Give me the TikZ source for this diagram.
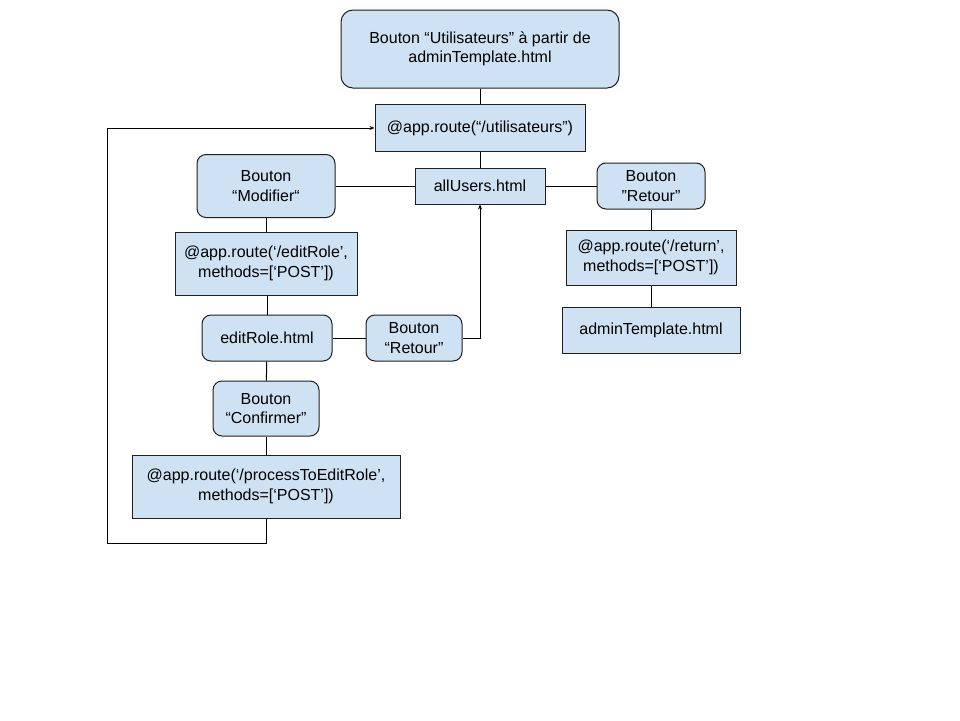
\documentclass[tikz,border=0pt]{standalone}
\usepackage{fontspec}
\setmainfont{Liberation Sans}
\usetikzlibrary{arrows.meta}
\definecolor{boxblue}{HTML}{CFE2F3}
\definecolor{edge}{HTML}{1F1F1F}
\begin{document}
\begin{tikzpicture}[x=1pt,y=-1pt,
  font=\fontsize{16}{19.5}\selectfont,
  box/.style={draw=edge,fill=boxblue,line width=1pt,align=center,inner sep=0pt},
  rbox/.style={box,rounded corners=9pt},
  link/.style={draw=black,line width=1pt},
  arr/.style={link,-{Stealth[length=5pt,width=4pt]}}]
\useasboundingbox[fill=white] (0,0) rectangle (960,720);
\node[rbox,rounded corners=12pt,minimum width=278pt,minimum height=78pt] (top) at (480,49) {Bouton “Utilisateurs” à partir de\\adminTemplate.html};
\node[box,minimum width=210pt,minimum height=47pt] (ru) at (480,128) {@app.route(“/utilisateurs”)};
\node[rbox,minimum width=138pt,minimum height=63pt] (mod) at (266,186) {Bouton\\“Modifier“};
\node[box,minimum width=130pt,minimum height=36pt] (all) at (480,186) {allUsers.html};
\node[rbox,minimum width=108pt,minimum height=46pt] (ret1) at (651,186) {Bouton\\"Retour"};
\node[box,minimum width=170pt,minimum height=55pt] (rret) at (651,257.5) {@app.route(‘/return’,\\methods=[‘POST’])};
\node[box,minimum width=178pt,minimum height=46pt] (adm) at (651,330) {adminTemplate.html};
\node[box,minimum width=182pt,minimum height=63pt] (red) at (266,263.5) {@app.route(‘/editRole’,\\methods=[‘POST’])};
\node[rbox,minimum width=130pt,minimum height=46pt] (edh) at (267,338) {editRole.html};
\node[rbox,minimum width=96pt,minimum height=46pt] (ret2) at (414,338) {Bouton\\“Retour”};
\node[rbox,minimum width=106pt,minimum height=55pt] (conf) at (266,408.5) {Bouton\\“Confirmer”};
\node[box,minimum width=268pt,minimum height=63pt] (proc) at (266,486.5) {@app.route(‘/processToEditRole’,\\methods=[‘POST’])};
\coordinate (c1) at (266,543);
\coordinate (c2) at (107,543);
\coordinate (c3) at (107,128);
\coordinate (c4) at (480,338);
\draw[link] (top) -- (ru);
\draw[link] (ru) -- (all);
\draw[link] (mod.east) -- (all.west);
\draw[link] (all.east) -- (ret1.west);
\draw[link] (ret1) -- (rret);
\draw[link] (rret) -- (adm);
\draw[link] (mod) -- (red);
\draw[link] (red.south -| edh) -- (edh);
\draw[link] (edh) -- (ret2);
\draw[arr] (ret2.east) -- (c4) -- (all.south);
\draw[link] (edh) -- (conf);
\draw[link] (conf) -- (proc);
\draw[arr] (proc.south) -- (c1) -- (c2) -- (c3) -- (ru.west);
\end{tikzpicture}
\end{document}
